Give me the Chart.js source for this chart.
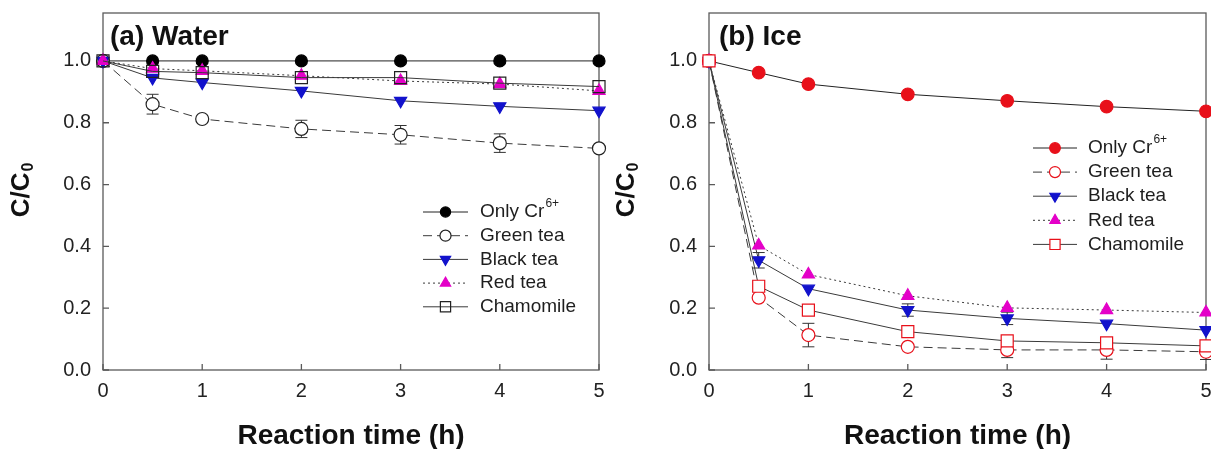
<!DOCTYPE html>
<html>
<head>
<meta charset="utf-8">
<script src="https://cdn.jsdelivr.net/npm/chart.js@4/dist/chart.umd.min.js"></script>
<style>
  html, body { margin: 0; padding: 0; background: #fff; overflow: hidden; }
  #wrap { position: relative; width: 1211px; height: 449px; overflow: hidden; }
  canvas { position: absolute; top: 0; }
  #water { left: 0; }
  #ice { left: 605px; }
</style>
</head>
<body>
<div id="wrap">
  <canvas id="water" width="609" height="449"></canvas>
  <canvas id="ice" width="611" height="449"></canvas>
</div>
<script>
// Sampling times (h) and axis ticks
const TIMES = [0, 0.5, 1, 2, 3, 4, 5];
const X_TICKS = [0, 1, 2, 3, 4, 5];
const Y_TICKS = [0, 0.2, 0.4, 0.6, 0.8, 1.0];

// Series names; the first one carries a superscript charge
const SERIES_LABELS = ['Only Cr', 'Green tea', 'Black tea', 'Red tea', 'Chamomile'];
const SERIES_SUPERSCRIPTS = ['6+', '', '', '', ''];

// (a) Water — C/C0
const WATER_ONLY_CR   = [1.000, 1.000, 1.000, 1.000, 1.000, 1.000, 1.000];
const WATER_GREEN     = [1.000, 0.860, 0.812, 0.780, 0.761, 0.734, 0.717];
const WATER_GREEN_ERR = [0, 0.032, 0, 0.028, 0.030, 0.030, 0];
const WATER_BLACK     = [1.000, 0.945, 0.930, 0.903, 0.871, 0.853, 0.839];
const WATER_RED       = [1.000, 0.975, 0.968, 0.952, 0.935, 0.925, 0.903];
const WATER_CHAMOMILE = [1.000, 0.966, 0.962, 0.946, 0.946, 0.928, 0.917];

// (b) Ice — C/C0
const ICE_ONLY_CR     = [1.000, 0.962, 0.925, 0.892, 0.871, 0.852, 0.837];
const ICE_GREEN       = [1.000, 0.234, 0.113, 0.075, 0.065, 0.065, 0.059];
const ICE_GREEN_ERR   = [0, 0, 0.038, 0, 0.025, 0.030, 0.025];
const ICE_BLACK       = [1.000, 0.355, 0.263, 0.194, 0.167, 0.150, 0.129];
const ICE_BLACK_ERR   = [0, 0.025, 0, 0.020, 0.020, 0, 0];
const ICE_RED         = [1.000, 0.403, 0.309, 0.240, 0.201, 0.194, 0.186];
const ICE_CHAMOMILE   = [1.000, 0.271, 0.194, 0.124, 0.094, 0.088, 0.078];

const FONT = "'Liberation Sans', Arial, sans-serif";
const INK = '#1e1e1e';
const LINE_GREY = '#3a3a3a';
const RED = '#e8101a';
const BLUE = '#1212cc';
const MAGENTA = '#e400c8';

function points(values) {
  return values.map((v, i) => ({ x: TIMES[i], y: v }));
}

function series(i, values, style, errors) {
  return Object.assign({
    label: SERIES_LABELS[i],
    data: points(values),
    errors: errors || null,
    showLine: true,
    tension: 0,
    borderColor: LINE_GREY,
    borderWidth: 1,
    borderDash: [],
    pointBorderWidth: 1.2,
    pointRotation: 0,
    clip: false,
    order: SERIES_LABELS.length - 1 - i
  }, style);
}

// Keep the plot box exactly where the layout padding puts it
function noLabelPadding(s) {
  s.paddingTop = 0; s.paddingBottom = 0; s.paddingLeft = 0; s.paddingRight = 0;
}

// Frame, inward ticks, error bars, titles and the legend
const panelDecor = {
  id: 'panelDecor',
  beforeDatasetsDraw(chart, args, opts) {
    const { ctx, chartArea: a } = chart;
    const x = chart.scales.x, y = chart.scales.y;
    ctx.save();
    ctx.strokeStyle = '#5a5a5a';
    ctx.lineWidth = 1.3;
    ctx.strokeRect(a.left, a.top, a.right - a.left, a.bottom - a.top);
    ctx.beginPath();
    X_TICKS.forEach(v => {
      const px = x.getPixelForValue(v);
      ctx.moveTo(px, a.bottom); ctx.lineTo(px, a.bottom - 6);
    });
    Y_TICKS.forEach(v => {
      const py = y.getPixelForValue(v);
      ctx.moveTo(a.left, py); ctx.lineTo(a.left + 6, py);
    });
    ctx.stroke();

    ctx.strokeStyle = '#333';
    ctx.lineWidth = 1;
    chart.data.datasets.forEach(ds => {
      if (!ds.errors) return;
      ds.data.forEach((p, i) => {
        const e = ds.errors[i];
        if (!e) return;
        const px = x.getPixelForValue(p.x);
        const top = y.getPixelForValue(p.y + e);
        const bot = y.getPixelForValue(p.y - e);
        ctx.beginPath();
        ctx.moveTo(px, top); ctx.lineTo(px, bot);
        ctx.moveTo(px - 6, top); ctx.lineTo(px + 6, top);
        ctx.moveTo(px - 6, bot); ctx.lineTo(px + 6, bot);
        ctx.stroke();
      });
    });
    ctx.restore();
  },
  afterDraw(chart, args, opts) {
    const { ctx, chartArea: a } = chart;
    ctx.save();
    ctx.fillStyle = '#111';

    // panel title
    ctx.font = `bold 28px ${FONT}`;
    ctx.textAlign = 'left';
    ctx.textBaseline = 'alphabetic';
    ctx.fillText(opts.title, opts.titleX, 45);

    // x axis title
    ctx.font = `bold 28px ${FONT}`;
    ctx.textAlign = 'center';
    ctx.textBaseline = 'middle';
    ctx.fillText('Reaction time (h)', (a.left + a.right) / 2, 436);

    // y axis title: C/C0 with subscript
    ctx.save();
    ctx.translate(opts.yTitleX, 190);
    ctx.rotate(-Math.PI / 2);
    ctx.font = `bold 26px ${FONT}`;
    const main = 'C/C';
    const wMain = ctx.measureText(main).width;
    ctx.font = `bold 16px ${FONT}`;
    const wSub = ctx.measureText('0').width;
    const start = -(wMain + wSub + 1) / 2;
    ctx.textAlign = 'left';
    ctx.textBaseline = 'middle';
    ctx.font = `bold 26px ${FONT}`;
    ctx.fillText(main, start, 0);
    ctx.font = `bold 16px ${FONT}`;
    ctx.fillText('0', start + wMain + 1, 7);
    ctx.restore();

    // legend
    const L = opts.legend;
    chart.data.datasets.forEach((ds, i) => {
      const ry = L.top + i * L.step;
      ctx.save();
      ctx.strokeStyle = ds.borderColor;
      ctx.lineWidth = ds.borderWidth;
      ctx.setLineDash(ds.borderDash || []);
      ctx.beginPath();
      ctx.moveTo(L.x0, ry); ctx.lineTo(L.x1, ry);
      ctx.stroke();
      ctx.setLineDash([]);
      ctx.fillStyle = ds.pointBackgroundColor;
      ctx.strokeStyle = ds.pointBorderColor;
      ctx.lineWidth = ds.pointBorderWidth;
      Chart.helpers.drawPoint(ctx, {
        pointStyle: ds.pointStyle,
        rotation: ds.pointRotation || 0,
        radius: ds.pointRadius * 0.85,
        borderWidth: ds.pointBorderWidth
      }, (L.x0 + L.x1) / 2, ry);
      ctx.restore();

      ctx.fillStyle = INK;
      ctx.textAlign = 'left';
      ctx.textBaseline = 'middle';
      ctx.font = `19px ${FONT}`;
      const label = SERIES_LABELS[i];
      ctx.fillText(label, L.textX, ry);
      const sup = SERIES_SUPERSCRIPTS[i];
      if (sup) {
        const w = ctx.measureText(label).width;
        ctx.font = `12px ${FONT}`;
        ctx.fillText(sup, L.textX + w + 1, ry - 8);
      }
    });
    ctx.restore();
  }
};

function makeChart(canvasId, datasets, decor, yAxisWidth) {
  return new Chart(document.getElementById(canvasId), {
    type: 'scatter',
    data: { datasets },
    plugins: [panelDecor],
    options: {
      responsive: false,
      animation: false,
      events: [],
      layout: { padding: { left: 0, right: 10, top: 13, bottom: 0 } },
      plugins: {
        legend: { display: false },
        tooltip: { enabled: false },
        panelDecor: decor
      },
      scales: {
        x: {
          type: 'linear',
          min: 0, max: 5,
          afterBuildTicks: s => { s.ticks = X_TICKS.map(v => ({ value: v })); },
          afterFit: s => { s.height = 79; noLabelPadding(s); },
          grid: { display: false, drawTicks: false },
          border: { display: false },
          ticks: {
            padding: 9,
            color: '#222',
            font: { family: FONT, size: 20 },
            maxRotation: 0,
            callback: v => String(v)
          }
        },
        y: {
          type: 'linear',
          min: 0, max: 1.155,
          afterBuildTicks: s => { s.ticks = Y_TICKS.map(v => ({ value: v })); },
          afterFit: s => { s.width = yAxisWidth; noLabelPadding(s); },
          grid: { display: false, drawTicks: false },
          border: { display: false },
          ticks: {
            padding: 12,
            color: '#222',
            font: { family: FONT, size: 20 },
            callback: v => Number(v).toFixed(1)
          }
        }
      }
    }
  });
}

const waterSets = [
  series(0, WATER_ONLY_CR, { pointStyle: 'circle', pointRadius: 6, pointBackgroundColor: '#000', pointBorderColor: '#000', borderColor: '#222' }),
  series(1, WATER_GREEN, { pointStyle: 'circle', pointRadius: 6.5, pointBackgroundColor: '#fff', pointBorderColor: '#222', borderDash: [9, 5] }, WATER_GREEN_ERR),
  series(2, WATER_BLACK, { pointStyle: 'triangle', pointRotation: 180, pointRadius: 7, pointBackgroundColor: BLUE, pointBorderColor: BLUE }),
  series(3, WATER_RED, { pointStyle: 'triangle', pointRadius: 7, pointBackgroundColor: MAGENTA, pointBorderColor: MAGENTA, borderDash: [2, 3] }),
  series(4, WATER_CHAMOMILE, { pointStyle: 'rect', pointRadius: 8.5, pointBackgroundColor: 'rgba(0,0,0,0)', pointBorderColor: '#222' })
];

const iceSets = [
  series(0, ICE_ONLY_CR, { pointStyle: 'circle', pointRadius: 6.3, pointBackgroundColor: RED, pointBorderColor: RED, borderColor: '#222' }),
  series(1, ICE_GREEN, { pointStyle: 'circle', pointRadius: 6.5, pointBackgroundColor: '#fff', pointBorderColor: RED, borderDash: [9, 5] }, ICE_GREEN_ERR),
  series(2, ICE_BLACK, { pointStyle: 'triangle', pointRotation: 180, pointRadius: 7, pointBackgroundColor: BLUE, pointBorderColor: BLUE }, ICE_BLACK_ERR),
  series(3, ICE_RED, { pointStyle: 'triangle', pointRadius: 7, pointBackgroundColor: MAGENTA, pointBorderColor: MAGENTA, borderDash: [2, 3] }),
  series(4, ICE_CHAMOMILE, { pointStyle: 'rect', pointRadius: 8.5, pointBackgroundColor: '#fff', pointBorderColor: RED })
];

makeChart('water', waterSets, {
  title: '(a) Water', titleX: 110, yTitleX: 22,
  legend: { x0: 423, x1: 468, textX: 480, top: 212, step: 23.7 }
}, 103);

makeChart('ice', iceSets, {
  title: '(b) Ice', titleX: 114, yTitleX: 22,
  legend: { x0: 428, x1: 472, textX: 483, top: 148, step: 24.1 }
}, 104);
</script>
</body>
</html>
